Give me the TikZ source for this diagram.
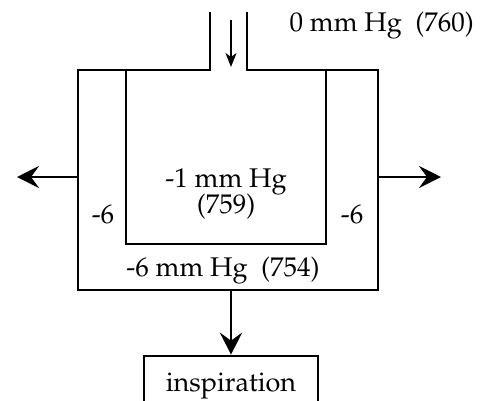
\documentclass[tikz,border=0pt]{standalone}
\usepackage[T1]{fontenc}
\usepackage{mathpazo}
\usetikzlibrary{arrows.meta}
\begin{document}
\begin{tikzpicture}[x=1pt,y=-1pt,
  wall/.style={line width=2.6pt,line cap=rect},
  flow/.style={line width=2.8pt,-{Stealth[length=22pt,width=22pt,inset=8pt]}},
  thin flow/.style={line width=1.5pt,-{Stealth[length=14pt,width=11pt,inset=4pt]}},
  lbl/.style={inner sep=0pt,font=\fontsize{27}{31}\selectfont}]
\useasboundingbox (0,0) rectangle (487,400);
\fill[white] (0,0) rectangle (487,400);
% coordinates
\coordinate (tubeL) at (210,13);
\coordinate (tubeR) at (247,13);
\coordinate (oTL) at (78,70);
\coordinate (oTR) at (378,70);
\coordinate (oBL) at (78,290);
\coordinate (oBR) at (378,290);
% outer chamber with tube
\draw[wall] (tubeL) -- (210,70) -- (oTL) -- (oBL) -- (oBR) -- (oTR) -- (247,70) -- (tubeR);
% inner chamber
\draw[wall] (126,70) -- (126,244) -- (326,244) -- (326,70);
% flows
\coordinate (inTop) at (231,20);
\coordinate (inBot) at (231,67);
\draw[thin flow] (inTop) -- (inBot);
\coordinate (lA) at (78,177);
\coordinate (lB) at (17,177);
\coordinate (rA) at (378,177);
\coordinate (rB) at (441,177);
\draw[flow] (lA) -- (lB);
\draw[flow] (rA) -- (rB);
% labels
\node[lbl,anchor=east] (atm) at (474,26) {0 mm Hg\ \ (760)};
\node[lbl] (lung1) at (226,182) {-1 mm Hg};
\node[lbl] (lung2) at (226,207) {(759)};
\node[lbl] (pl) at (103,214) {-6};
\node[lbl] (pr) at (352,214) {-6};
\node[lbl] (pleu) at (223,271) {-6 mm Hg\ \ (754)};
\node[draw,line width=2.6pt,minimum width=174pt,minimum height=52pt,inner sep=0pt,
  font=\fontsize{27}{31}\selectfont,text depth=0pt] (insp) at (231,382) {inspiration};
\coordinate (dTop) at (231,290);
\draw[flow] (dTop) -- (insp.north);
\end{tikzpicture}
\end{document}
